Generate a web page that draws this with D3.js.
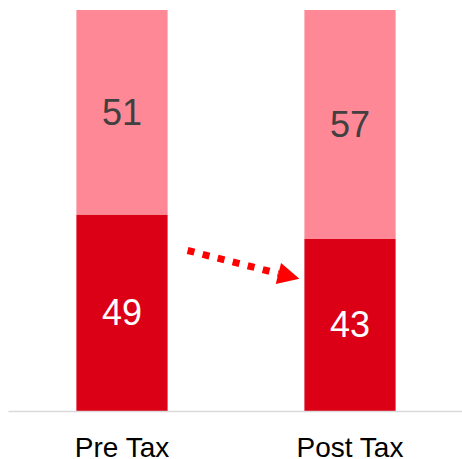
<!DOCTYPE html>
<html>
<head>
<meta charset="utf-8">
<script src="https://cdn.jsdelivr.net/npm/d3@7"></script>
<style>
  body { margin: 0; background: #fff; }
  text { font-family: "Liberation Sans", Arial, sans-serif; }
</style>
</head>
<body>
<svg id="chart" width="462" height="459"></svg>
<script>
const categories = ['Pre Tax', 'Post Tax'];
const bottomValues = [49, 43];
const topValues = [51, 57];

const svg = d3.select('#chart');
const margin = {top: 10, right: -2, bottom: 48, left: 8},
  width = +svg.attr('width') - margin.left - margin.right,
  height = +svg.attr('height') - margin.top - margin.bottom;

const x = d3.scaleBand().domain(categories).range([0, width]).paddingInner(0.6).paddingOuter(0.3);
const y = d3.scaleLinear().domain([0, 100]).range([height, 0]);

const g = svg.append('g').attr('transform', `translate(${margin.left},${margin.top})`);

const data = categories.map((c, i) => ({cat: c, bottom: bottomValues[i], top: topValues[i]}));

// bottom segment
g.selectAll('.bar-bottom')
  .data(data)
  .enter().append('rect')
  .attr('class', 'bar-bottom')
  .attr('x', d => x(d.cat))
  .attr('width', x.bandwidth())
  .attr('y', d => y(d.bottom))
  .attr('height', d => height - y(d.bottom))
  .attr('fill', '#dc0017');

// top segment
g.selectAll('.bar-top')
  .data(data)
  .enter().append('rect')
  .attr('class', 'bar-top')
  .attr('x', d => x(d.cat))
  .attr('width', x.bandwidth())
  .attr('y', d => y(d.bottom + d.top))
  .attr('height', d => y(d.bottom) - y(d.bottom + d.top))
  .attr('fill', '#ff8896');

g.selectAll('.lbl-bottom')
  .data(data)
  .enter().append('text')
  .attr('x', d => x(d.cat) + x.bandwidth() / 2)
  .attr('y', d => y(d.bottom / 2))
  .attr('dy', '0.35em')
  .attr('text-anchor', 'middle')
  .attr('font-size', 36)
  .attr('fill', '#fff')
  .text(d => d.bottom);

g.selectAll('.lbl-top')
  .data(data)
  .enter().append('text')
  .attr('x', d => x(d.cat) + x.bandwidth() / 2)
  .attr('y', d => y(d.bottom + d.top / 2))
  .attr('dy', '0.35em')
  .attr('text-anchor', 'middle')
  .attr('font-size', 36)
  .attr('fill', '#404040')
  .text(d => d.top);

// axis
const xAxis = g.append('g')
  .attr('transform', `translate(0,${height})`)
  .call(d3.axisBottom(x).tickSize(0).tickPadding(26));
xAxis.select('.domain').attr('stroke', '#d9d9d9').attr('stroke-width', 1.5);
xAxis.selectAll('text')
  .attr('font-size', 28)
  .attr('fill', '#000')
  .style('font-family', '"Liberation Sans", Arial, sans-serif');

// dotted arrow from pre tax bar toward post tax bar
const defs = svg.append('defs');
defs.append('marker')
  .attr('id', 'head')
  .attr('viewBox', '0 0 10 10')
  .attr('refX', 0).attr('refY', 5)
  .attr('markerWidth', 3.4).attr('markerHeight', 3.1)
  .attr('markerUnits', 'strokeWidth')
  .attr('orient', 'auto')
  .append('path')
  .attr('d', 'M0,0L10,5L0,10Z')
  .attr('fill', '#ff0000');

const x0 = x(categories[0]) + x.bandwidth() + 20;
const x1 = x(categories[1]) - 26;
g.append('line')
  .attr('x1', x0).attr('y1', y(bottomValues[0]) + 36)
  .attr('x2', x1).attr('y2', y(bottomValues[0]) + 59)
  .attr('stroke', '#ff0000')
  .attr('stroke-width', 7)
  .attr('stroke-dasharray', '7,8.5')
  .attr('marker-end', 'url(#head)');
</script>
</body>
</html>
